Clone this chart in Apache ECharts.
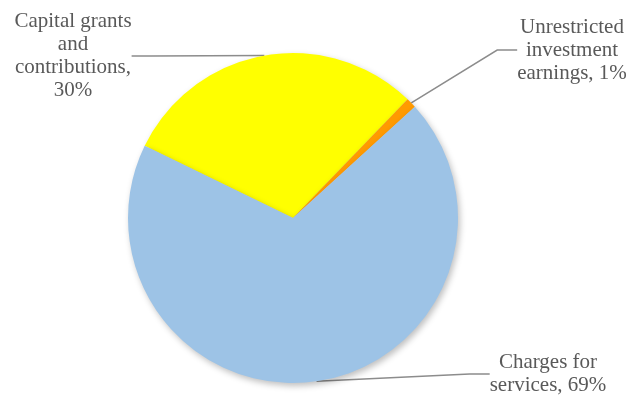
<!DOCTYPE html>
<html>
<head>
<meta charset="utf-8">
<script src="https://cdn.jsdelivr.net/npm/echarts@6/dist/echarts.min.js"></script>
<style>
    html, body { margin: 0; padding: 0; background: #fff; }
    #myPie { width: 632px; height: 407px; }
</style>
</head>
<body>
<div id="myPie"></div>
<script>
// 数据
var names = ['Capital grants and contributions', 'Unrestricted investment earnings', 'Charges for services'];
var values = [30, 1, 69];
var colors = ['#FFFF00', '#FF9A00', '#9DC3E6'];
var labelText = [
    'Capital grants\nand\ncontributions,\n{d}%',
    'Unrestricted\ninvestment\nearnings, {d}%',
    'Charges for\nservices, {d}%'
];
// 标签位置 (中心点)
var labelPos = [[73, 56], [572, 50], [548, 374]];

var myPie;
window.onload = function () {
    myPie = echarts.init(document.getElementById('myPie'));
    drawPie();
};

function drawPie() {
    var data = [];
    for (var i = 0; i < names.length; i++) {
        data.push({
            name: names[i],
            value: values[i],
            itemStyle: { color: colors[i] },
            label: { formatter: labelText[i] }
        });
    }

    var option = {
        animation: false,
        series: [{
            type: 'pie',
            center: [293, 218],
            radius: 165,
            startAngle: 154,
            clockwise: true,
            itemStyle: {
                borderWidth: 0,
                shadowBlur: 6,
                shadowColor: 'rgba(0,0,0,0.25)',
                shadowOffsetX: 2,
                shadowOffsetY: 3
            },
            label: {
                show: true,
                position: 'outside',
                fontFamily: 'serif',
                fontSize: 21,
                lineHeight: 23,
                color: '#595959',
                align: 'center'
            },
            labelLine: {
                show: true,
                length: 20,
                length2: 20,
                lineStyle: {
                    color: '#8C8C8C',
                    width: 1.5
                }
            },
            labelLayout: function (params) {
                var p = labelPos[params.dataIndex];
                return {
                    x: p[0],
                    y: p[1],
                    align: 'center',
                    verticalAlign: 'middle'
                };
            },
            data: data
        }]
    };

    myPie.setOption(option);
}
</script>
</body>
</html>
